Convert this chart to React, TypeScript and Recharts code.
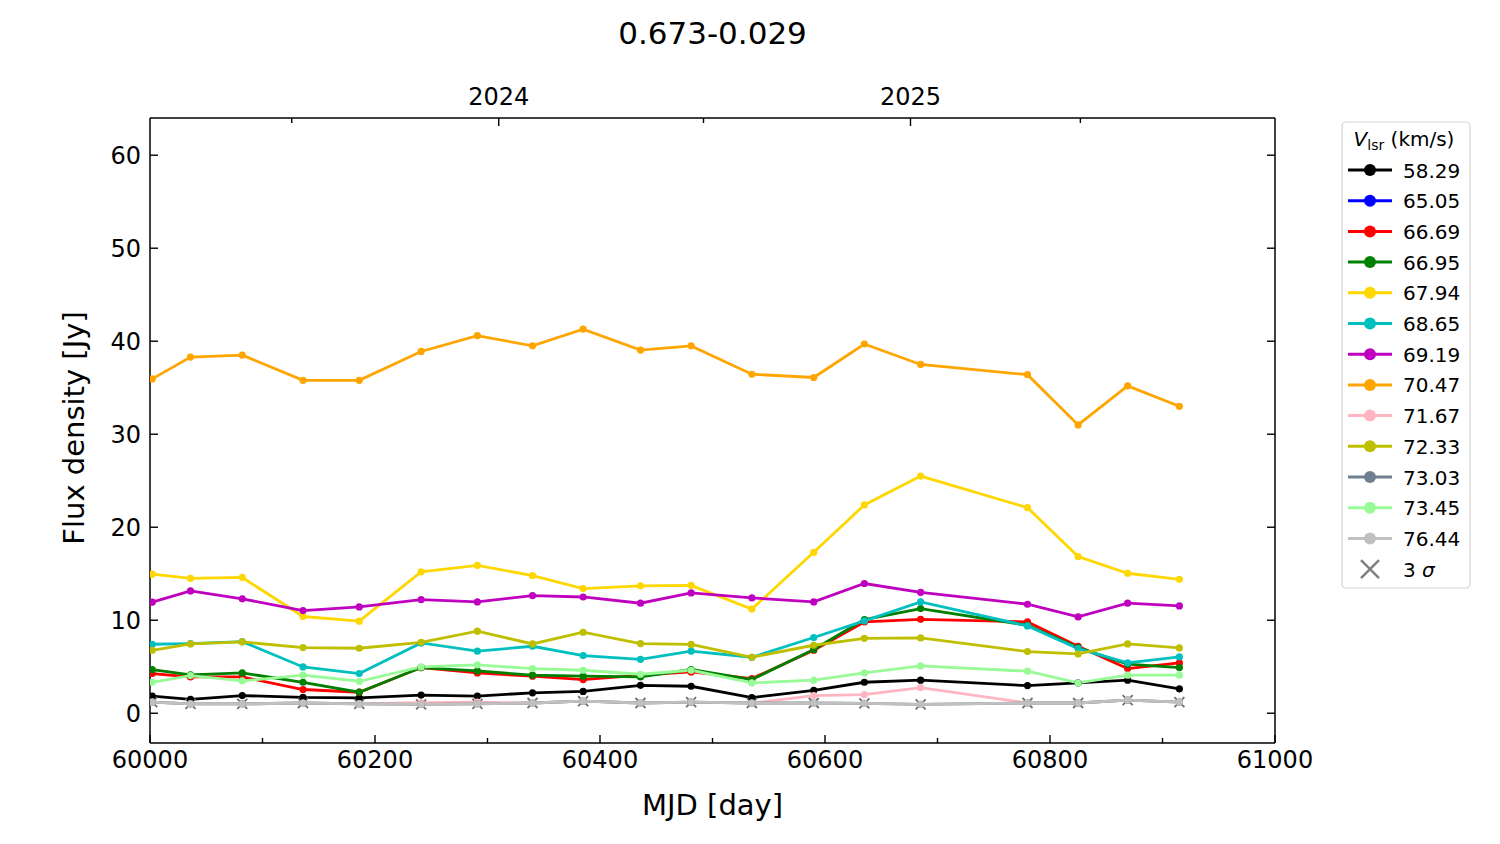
import { LineChart, Line, XAxis, YAxis } from 'recharts';

// epochs (MJD)
const mjd = [60002, 60036, 60082, 60136, 60186, 60241, 60291, 60340, 60385, 60436, 60481, 60535, 60590, 60635, 60685, 60780, 60825, 60869, 60915];

// flux density per velocity channel [Jy]
const v5829 = [1.85, 1.5, 1.9, 1.7, 1.65, 1.95, 1.85, 2.2, 2.35, 3.0, 2.9, 1.68, 2.47, 3.33, 3.55, 2.97, 3.26, 3.55, 2.62];
const v6505 = [null, null, null, null, null, null, null, null, null, null, null, null, null, null, null, null, null, null, null];
const v6669 = [4.27, 3.9, 3.9, 2.55, 2.26, 4.91, 4.33, 3.98, 3.62, 4.09, 4.44, 3.73, 6.77, 9.82, 10.1, 9.82, 7.2, 4.8, 5.41];
const v6695 = [4.7, 4.12, 4.33, 3.33, 2.26, 4.91, 4.55, 4.09, 3.98, 3.9, 4.7, 3.62, 6.85, 10.07, 11.25, 9.46, 7.06, 5.27, 4.91];
const v6794 = [14.95, 14.5, 14.6, 10.4, 9.9, 15.2, 15.9, 14.8, 13.4, 13.7, 13.75, 11.2, 17.3, 22.4, 25.5, 22.1, 16.85, 15.05, 14.4];
const v6865 = [7.42, 7.49, 7.7, 4.98, 4.27, 7.56, 6.67, 7.2, 6.2, 5.8, 6.67, 6.02, 8.14, 9.93, 11.97, 9.39, 6.95, 5.41, 6.05];
const v6919 = [11.94, 13.15, 12.3, 11.04, 11.43, 12.22, 11.97, 12.65, 12.5, 11.83, 12.94, 12.4, 11.97, 13.95, 13.0, 11.72, 10.36, 11.83, 11.54];
const v7047 = [35.95, 38.3, 38.5, 35.8, 35.8, 38.9, 40.6, 39.5, 41.3, 39.05, 39.5, 36.45, 36.1, 39.7, 37.5, 36.4, 31.0, 35.2, 33.0];
const v7167 = [1.2, 1.0, 1.0, 1.1, 1.0, 1.15, 1.2, 1.1, 1.3, 1.1, 1.2, 1.1, 1.9, 2.0, 2.75, 1.1, 1.1, 1.4, 1.2];
const v7233 = [6.77, 7.45, 7.67, 7.06, 6.99, 7.63, 8.82, 7.45, 8.71, 7.49, 7.4, 6.02, 7.31, 8.06, 8.1, 6.63, 6.38, 7.45, 7.02];
const v7303 = [1.2, 1.0, 1.0, 1.1, 1.0, 0.95, 1.0, 1.1, 1.3, 1.1, 1.2, 1.1, 1.1, 1.05, 0.95, 1.1, 1.1, 1.4, 1.2];
const v7345 = [3.33, 4.05, 3.47, 4.09, 3.44, 4.98, 5.2, 4.8, 4.62, 4.19, 4.62, 3.26, 3.55, 4.33, 5.09, 4.52, 3.26, 4.09, 4.09];
const v7644 = [1.2, 1.0, 1.0, 1.1, 1.0, 0.95, 1.0, 1.1, 1.3, 1.1, 1.2, 1.1, 1.1, 1.05, 0.95, 1.1, 1.1, 1.4, 1.2];
const sigma3 = [1.2, 1.0, 1.0, 1.1, 1.0, 0.95, 1.0, 1.1, 1.3, 1.1, 1.2, 1.1, 1.1, 1.05, 0.95, 1.1, 1.1, 1.4, 1.2];

const mjdTicks = [60000, 60100, 60200, 60300, 60400, 60500, 60600, 60700, 60800, 60900, 61000];
const fluxTicks = [0, 10, 20, 30, 40, 50, 60];
const yearTicks = [60126, 60310, 60492, 60676, 60827];
const yearLabels: Record<number, string> = { 60310: '2024', 60676: '2025' };

const SERIES = [
  { key: 'v5829', name: '58.29', color: '#000000', values: v5829 },
  { key: 'v6505', name: '65.05', color: '#0000ff', values: v6505 },
  { key: 'v6669', name: '66.69', color: '#ff0000', values: v6669 },
  { key: 'v6695', name: '66.95', color: '#008000', values: v6695 },
  { key: 'v6794', name: '67.94', color: '#ffd700', values: v6794 },
  { key: 'v6865', name: '68.65', color: '#00bfbf', values: v6865 },
  { key: 'v6919', name: '69.19', color: '#bf00bf', values: v6919 },
  { key: 'v7047', name: '70.47', color: '#ffa500', values: v7047 },
  { key: 'v7167', name: '71.67', color: '#ffb6c1', values: v7167 },
  { key: 'v7233', name: '72.33', color: '#bfbf00', values: v7233 },
  { key: 'v7303', name: '73.03', color: '#708090', values: v7303 },
  { key: 'v7345', name: '73.45', color: '#98fb98', values: v7345 },
  { key: 'v7644', name: '76.44', color: '#c0c0c0', values: v7644 }
];

const data = mjd.map((m, i) => {
  const row: Record<string, number | null> = { mjd: m, sigma: sigma3[i] };
  SERIES.forEach((s) => {
    row[s.key] = s.values[i];
  });
  return row;
});

const W = 1500;
const H = 844;
const FONT = '"DejaVu Sans", sans-serif';

const BottomTick = (props: any) => {
  const { x, y, payload } = props;
  const major = payload.value % 200 === 0;
  return (
    <g>
      <line x1={x} x2={x} y1={y} y2={y - (major ? 8 : 5)} stroke="#000" strokeWidth={1.4} />
      {major && (
        <text x={x} y={y + 25} textAnchor="middle" fontSize={24} fill="#000">
          {payload.value}
        </text>
      )}
    </g>
  );
};

const TopTick = (props: any) => {
  const { x, y, payload } = props;
  const label = yearLabels[payload.value];
  return (
    <g>
      <line x1={x} x2={x} y1={y} y2={y + (label ? 8 : 5)} stroke="#000" strokeWidth={1.4} />
      {label && (
        <text x={x} y={y - 13} textAnchor="middle" fontSize={24} fill="#000">
          {label}
        </text>
      )}
    </g>
  );
};

const LeftTick = (props: any) => {
  const { x, y, payload } = props;
  return (
    <g>
      <line x1={x} x2={x + 8} y1={y} y2={y} stroke="#000" strokeWidth={1.4} />
      <text x={x - 9} y={y + 8.5} textAnchor="end" fontSize={24} fill="#000">
        {payload.value}
      </text>
    </g>
  );
};

const RightTick = (props: any) => {
  const { x, y } = props;
  return <line x1={x} x2={x - 8} y1={y} y2={y} stroke="#000" strokeWidth={1.4} />;
};

const SigmaMark = (props: any) => {
  const { cx, cy, index } = props;
  if (cx == null || cy == null) return <g key={`s-${index}`} />;
  const r = 5;
  return (
    <path
      key={`s-${index}`}
      d={`M${cx - r},${cy - r}L${cx + r},${cy + r}M${cx - r},${cy + r}L${cx + r},${cy - r}`}
      stroke="#707070"
      strokeWidth={1.8}
      fill="none"
    />
  );
};

function LegendBox() {
  const rowY = (i: number) => 170 + i * 30.7;
  return (
    <svg width={W} height={H} style={{ position: 'absolute', left: 0, top: 0, pointerEvents: 'none', fontFamily: FONT }}>
      <rect x={1342} y={122} width={128} height={466} rx={4} fill="#fff" fillOpacity={0.8} stroke="#d3d3d3" strokeWidth={1.2} />
      <text x={1404} y={146} textAnchor="middle" fontSize={20} fill="#000">
        <tspan fontStyle="italic">V</tspan>
        <tspan fontSize={14} dy={4}>lsr</tspan>
        <tspan dy={-4}> (km/s)</tspan>
      </text>
      {SERIES.map((s, i) => (
        <g key={s.key}>
          <line x1={1348} x2={1392} y1={rowY(i)} y2={rowY(i)} stroke={s.color} strokeWidth={3} />
          <circle cx={1370} cy={rowY(i)} r={6} fill={s.color} />
          <text x={1403} y={rowY(i) + 7.5} fontSize={20} fill="#000">
            {s.name}
          </text>
        </g>
      ))}
      <path
        d={`M1361,${rowY(13) - 9}L1379,${rowY(13) + 9}M1361,${rowY(13) + 9}L1379,${rowY(13) - 9}`}
        stroke="#808080"
        strokeWidth={2.5}
      />
      <text x={1403} y={rowY(13) + 7.5} fontSize={20} fill="#000">
        3 <tspan fontStyle="italic">σ</tspan>
      </text>
    </svg>
  );
}

export default function App() {
  return (
    <div style={{ position: 'absolute', left: 0, top: 0, width: W, height: H, background: '#fff', fontFamily: FONT }}>
      <LineChart width={W} height={H} data={data} margin={{ top: 0, right: 0, bottom: 0, left: 0 }}>
        <XAxis
          xAxisId="bottom"
          dataKey="mjd"
          type="number"
          domain={[60000, 61000]}
          ticks={mjdTicks}
          interval={0}
          height={101}
          tickSize={0}
          tickMargin={0}
          tickLine={false}
          tick={<BottomTick />}
          axisLine={{ stroke: '#000', strokeWidth: 1.5 }}
          allowDataOverflow
          label={{ value: 'MJD [day]', position: 'insideBottom', offset: 29, fontSize: 29, fill: '#000' }}
        />
        <XAxis
          xAxisId="top"
          orientation="top"
          dataKey="mjd"
          type="number"
          domain={[60000, 61000]}
          ticks={yearTicks}
          interval={0}
          height={118}
          tickSize={0}
          tickMargin={0}
          tickLine={false}
          tick={<TopTick />}
          axisLine={{ stroke: '#000', strokeWidth: 1.5 }}
          allowDataOverflow
          label={{
            content: () => (
              <text x={712.5} y={44} textAnchor="middle" fontSize={31} fill="#000">
                0.673-0.029
              </text>
            )
          }}
        />
        <YAxis
          yAxisId="left"
          type="number"
          domain={[-3.2, 64]}
          ticks={fluxTicks}
          interval={0}
          width={150}
          tickSize={0}
          tickMargin={0}
          tickLine={false}
          tick={<LeftTick />}
          axisLine={{ stroke: '#000', strokeWidth: 1.5 }}
          allowDataOverflow
          label={{
            content: () => (
              <text transform="translate(84,428) rotate(-90)" textAnchor="middle" fontSize={29} fill="#000">
                Flux density [Jy]
              </text>
            )
          }}
        />
        <YAxis
          yAxisId="right"
          orientation="right"
          type="number"
          domain={[-3.2, 64]}
          ticks={fluxTicks}
          interval={0}
          width={225}
          tickSize={0}
          tickMargin={0}
          tickLine={false}
          tick={<RightTick />}
          axisLine={{ stroke: '#000', strokeWidth: 1.5 }}
          allowDataOverflow
        />
        <Line
          xAxisId="bottom"
          yAxisId="left"
          dataKey="sigma"
          name="3 σ"
          stroke="none"
          dot={SigmaMark}
          activeDot={false}
          isAnimationActive={false}
        />
        {SERIES.map((s) => (
          <Line
            key={s.key}
            xAxisId="bottom"
            yAxisId="left"
            type="linear"
            dataKey={s.key}
            name={s.name}
            stroke={s.color}
            strokeWidth={2.8}
            dot={{ r: 3.6, fill: s.color, stroke: s.color, strokeWidth: 0 }}
            activeDot={false}
            isAnimationActive={false}
          />
        ))}
      </LineChart>
      <LegendBox />
    </div>
  );
}
